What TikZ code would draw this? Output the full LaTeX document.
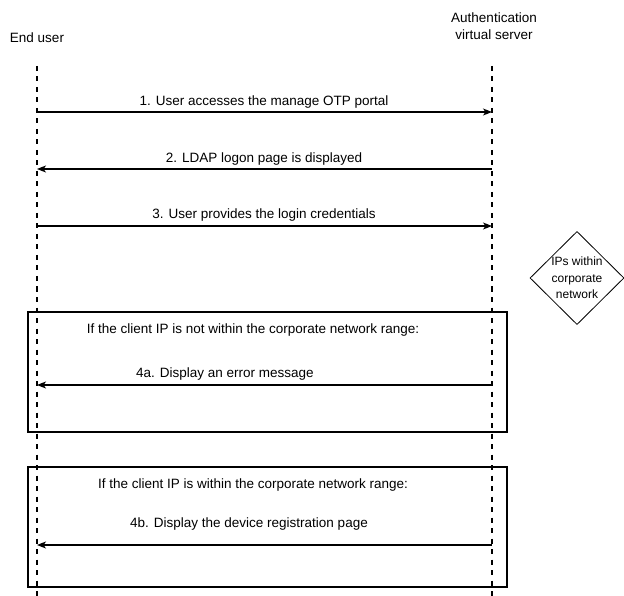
\documentclass[tikz,border=0pt]{standalone}
\usepackage{fontspec}
\setmainfont{Liberation Sans}
\usetikzlibrary{arrows.meta,shapes.geometric}
\begin{document}
\begin{tikzpicture}[x=1pt,y=-1pt,
  lbl/.style={font=\fontsize{13.5}{16}\selectfont, inner sep=0pt, anchor=base},
  life/.style={line width=1.8pt, dash pattern=on 5pt off 5.5pt},
  msg/.style={line width=1.1pt, -{Stealth[length=9pt,width=7pt,inset=2.5pt]}},
  frame/.style={draw, line width=2.2pt},
  dec/.style={draw, diamond, aspect=1, minimum width=94pt, minimum height=92pt, inner sep=0pt, line width=0.8pt, align=center, font=\fontsize{12}{16.5}\selectfont}]
\useasboundingbox (0,0) rectangle (624,596);
% headers
\node[lbl] (eu) at (37,43) {End user};
\node[lbl, align=center, anchor=center, font=\fontsize{13.5}{17}\selectfont] (avs) at (494,26) {Authentication\\virtual server};
% lifeline ends
\coordinate (lt) at (37,66);
\coordinate (lb) at (37,596);
\coordinate (rt) at (492,66);
\coordinate (rb) at (492,596);
% frames
\node[frame, minimum width=479pt, minimum height=120pt, anchor=north west, inner sep=0pt] (f1) at (27,311) {};
\node[frame, minimum width=479pt, minimum height=120pt, anchor=north west, inner sep=0pt] (f2) at (27,466) {};
\draw[life] (lt) -- (lb);
\draw[life] (rt) -- (rb);
% message coordinates
\coordinate (l1) at (37,112); \coordinate (r1) at (492,112);
\coordinate (l2) at (37,169); \coordinate (r2) at (492,169);
\coordinate (l3) at (37,226); \coordinate (r3) at (492,226);
\coordinate (l4) at (37,385); \coordinate (r4) at (492,385);
\coordinate (l5) at (37,545); \coordinate (r5) at (492,545);
\draw[msg] (l1) -- (r1);
\draw[msg] (r2) -- (l2);
\draw[msg] (l3) -- (r3);
\draw[msg] (r4) -- (l4);
\draw[msg] (r5) -- (l5);
\node[lbl] (m1) at (264,106) {1. User accesses the manage OTP portal};
\node[lbl] (m2) at (264,163) {2. LDAP logon page is displayed};
\node[lbl] (m3) at (264,219) {3. User provides the login credentials};
\node[lbl] (c1) at (253,333) {If the client IP is not within the corporate network range:};
\node[lbl] (m4) at (225,377) {4a. Display an error message};
\node[lbl] (c2) at (253,488) {If the client IP is within the corporate network range:};
\node[lbl] (m5) at (249,527) {4b. Display the device registration page};
% decision
\node[dec] (d) at (577,278) {IPs within\\corporate\\network};
\end{tikzpicture}
\end{document}
